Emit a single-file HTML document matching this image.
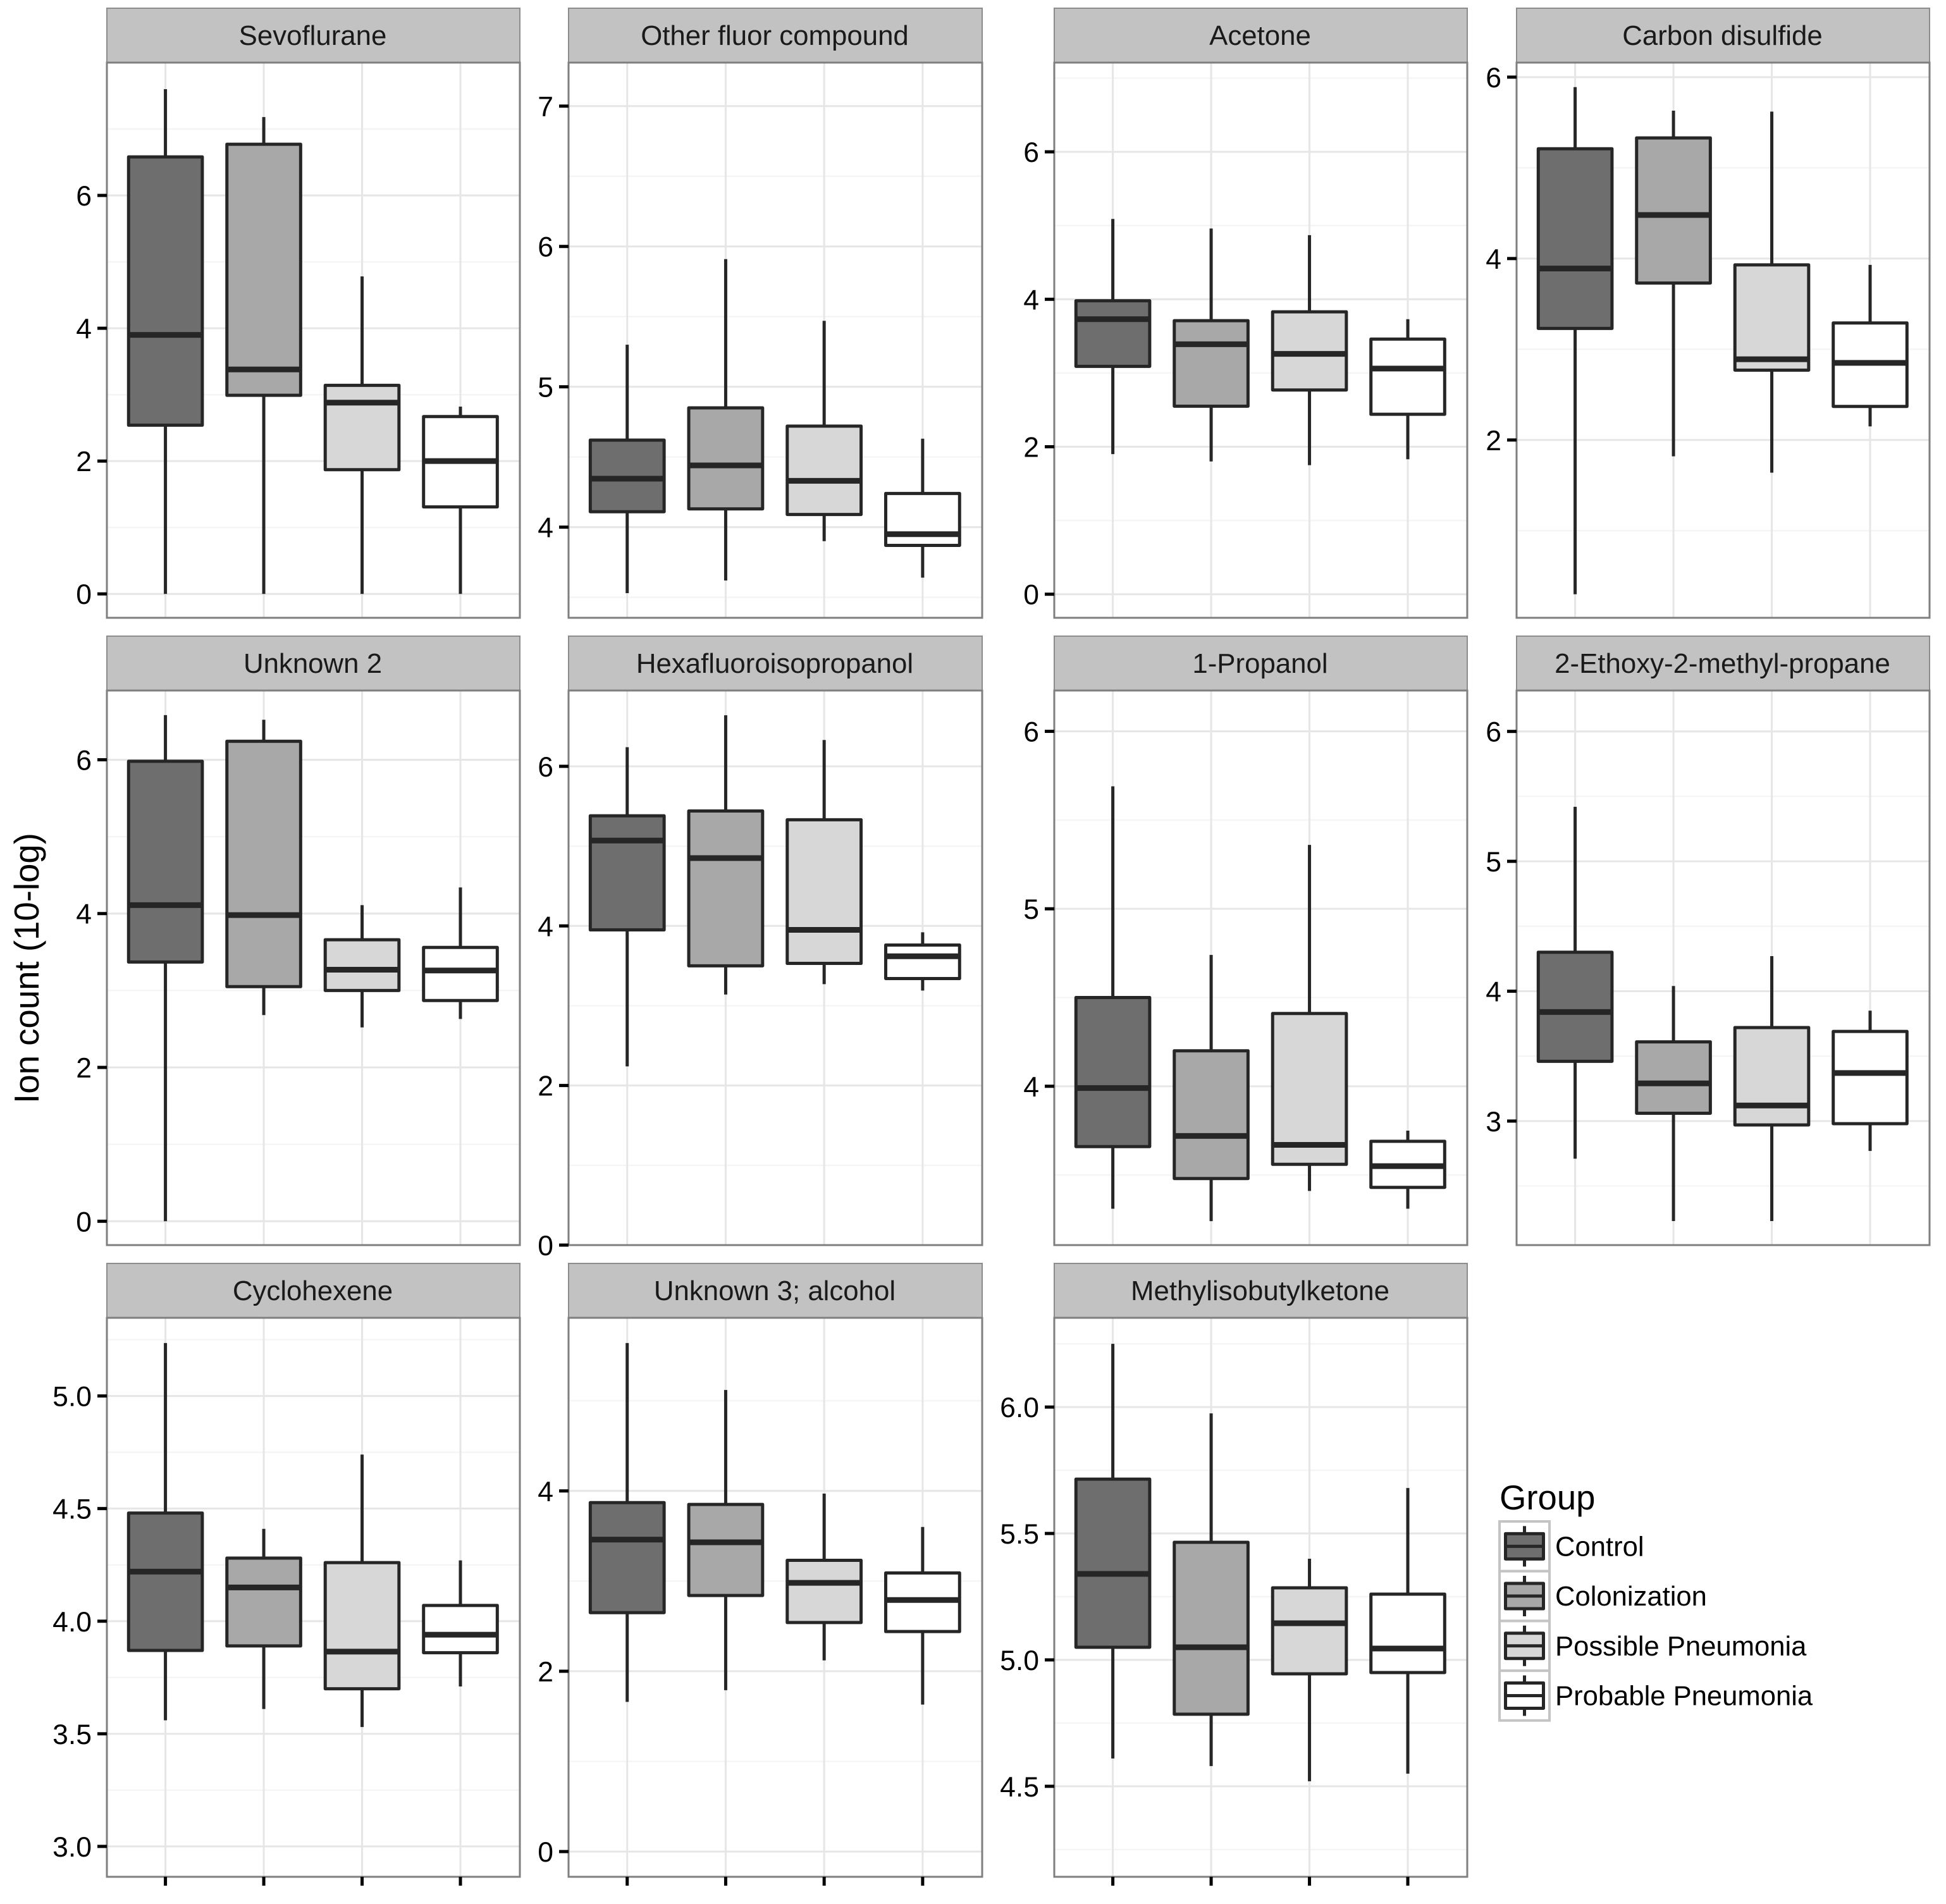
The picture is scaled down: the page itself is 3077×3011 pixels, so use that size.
<!DOCTYPE html>
<html lang="en">
<head>
<meta charset="utf-8">
<title>Ion count by group</title>
<style>
html,body{margin:0;padding:0;background:#fff;}
svg{display:block;}
text{font-family:"Liberation Sans",Arial,sans-serif;}
</style>
</head>
<body>
<svg id="chart" xmlns="http://www.w3.org/2000/svg" width="3077" height="3011" viewBox="0 0 3077 3011">
<rect width="3077" height="3011" fill="#ffffff"/>
<text transform="translate(61,1531) rotate(-90)" text-anchor="middle" font-size="54.6" fill="#000">Ion count (10-log)</text>
</svg>
<script>
const panelNames = ["Sevoflurane","Other fluor compound","Acetone","Carbon disulfide","Unknown 2","Hexafluoroisopropanol","1-Propanol","2-Ethoxy-2-methyl-propane","Cyclohexene","Unknown 3; alcohol","Methylisobutylketone"];
const groupNames = ["Control","Colonization","Possible Pneumonia","Probable Pneumonia"];
const yTickLabels = [
 ["0","2","4","6"],["4","5","6","7"],["0","2","4","6"],["2","4","6"],
 ["0","2","4","6"],["0","2","4","6"],["4","5","6"],["3","4","5","6"],
 ["3.0","3.5","4.0","4.5","5.0"],["0","2","4"],["4.5","5.0","5.5","6.0"]
];
const yLimits = [
 [-0.36,8.0],[3.354,7.31],[-0.32,7.21],[0.04,6.16],
 [-0.31,6.90],[0,6.95],[3.105,6.23],[2.045,6.315],
 [2.865,5.347],[-0.28,5.92],[4.142,6.353]
];
const whiskerLow = [
 [0,0,0,0],[3.53,3.62,3.90,3.64],[1.90,1.80,1.75,1.83],[0.30,1.82,1.64,2.15],
 [0,2.68,2.52,2.63],[2.24,3.14,3.27,3.19],[3.31,3.24,3.41,3.31],[2.71,2.23,2.23,2.77],
 [3.56,3.61,3.53,3.71],[1.66,1.79,2.12,1.63],[4.61,4.58,4.52,4.55]
];
const quartile1 = [
 [2.54,2.99,1.87,1.31],[4.11,4.13,4.09,3.87],[3.09,2.55,2.77,2.44],[3.23,3.73,2.77,2.37],
 [3.37,3.05,3.00,2.87],[3.95,3.50,3.53,3.34],[3.66,3.48,3.56,3.43],[3.46,3.06,2.97,2.98],
 [3.87,3.89,3.70,3.86],[2.65,2.84,2.54,2.44],[5.05,4.785,4.945,4.95]
];
const medians = [
 [3.90,3.38,2.88,2.00],[4.345,4.44,4.33,3.95],[3.73,3.39,3.26,3.06],[3.89,4.48,2.89,2.85],
 [4.11,3.98,3.27,3.26],[5.07,4.85,3.95,3.62],[3.99,3.72,3.67,3.55],[3.84,3.29,3.12,3.37],
 [4.22,4.15,3.865,3.94],[3.46,3.43,2.98,2.79],[5.34,5.05,5.145,5.045]
];
const quartile3 = [
 [6.58,6.77,3.14,2.67],[4.62,4.85,4.72,4.24],[3.98,3.71,3.83,3.46],[5.21,5.33,3.93,3.29],
 [5.98,6.24,3.66,3.56],[5.38,5.44,5.33,3.76],[4.50,4.20,4.41,3.69],[4.30,3.61,3.72,3.69],
 [4.48,4.28,4.26,4.07],[3.87,3.85,3.23,3.09],[5.715,5.465,5.285,5.26]
];
const whiskerHigh = [
 [7.60,7.18,4.78,2.82],[5.30,5.91,5.47,4.63],[5.09,4.96,4.87,3.73],[5.89,5.63,5.62,3.93],
 [6.58,6.52,4.11,4.34],[6.24,6.64,6.33,3.92],[5.69,4.74,5.36,3.75],[5.42,4.04,4.27,3.85],
 [5.235,4.41,4.74,4.27],[5.64,5.12,3.97,3.60],[6.25,5.975,5.40,5.68]
];
const groupFills = ["#6e6e6e","#a8a8a8","#d7d7d7","#ffffff"];

const NS = "http://www.w3.org/2000/svg";
const root = document.getElementById("chart");
const INK = "#262626";
const columnEdges = [[169,822],[899,1553],[1667,2320],[2398,3051]];
const rowEdges = [[99,977],[1092,1969],[2084,2968]];
const STRIP_H = 86;

function make(parent, tag, props, content) {
  const el = document.createElementNS(NS, tag);
  for (const key in props) el.setAttribute(key, props[key]);
  if (content !== undefined) el.textContent = content;
  parent.appendChild(el);
  return el;
}
function xBand(left, right, idx) {
  const unit = (right - left) / 4.2;
  return left + (0.6 + idx) * unit - 0.7;
}
function yScale(limits, top, bottom, value) {
  return bottom - (value - limits[0]) / (limits[1] - limits[0]) * (bottom - top);
}

panelNames.forEach(function (name, p) {
  const col = p % 4;
  const row = Math.floor(p / 4);
  const L = columnEdges[col][0], R = columnEdges[col][1];
  const T = rowEdges[row][0], B = rowEdges[row][1];
  const limits = yLimits[p];
  const Y = function (v) { return yScale(limits, T, B, v); };
  const X = function (i) { return xBand(L, R, i); };
  const unit = (R - L) / 4.2;

  const g = make(root, "g", {});
  
  

  const strip = make(g, "rect", {x: L, y: T - STRIP_H, width: R - L, height: STRIP_H, fill: "#c2c2c2", stroke: "#8c8c8c", "stroke-width": 2});
  
  

  const title = make(g, "text", {x: (L + R) / 2 - 1, y: T - 28, "text-anchor": "middle", "font-size": 43.8, fill: "#1a1a1a"}, name);
  
  

  const bg = make(g, "rect", {x: L, y: T, width: R - L, height: B - T, fill: "#ffffff"});
  
  

  const tickValues = yTickLabels[p].map(Number);
  const step = tickValues[1] - tickValues[0];
  for (let m = tickValues[0] - step / 2; m < limits[1]; m += step) {
    if (m <= limits[0]) continue;
    const minor = make(g, "line", {x1: L, x2: R, y1: Y(m), y2: Y(m), stroke: "#f5f5f5", "stroke-width": 2.5});
    
    
  }
  tickValues.forEach(function (v) {
    const major = make(g, "line", {x1: L, x2: R, y1: Y(v), y2: Y(v), stroke: "#e6e6e6", "stroke-width": 3});
    
    
  });
  groupNames.forEach(function (_, i) {
    const vg = make(g, "line", {x1: X(i), x2: X(i), y1: T, y2: B, stroke: "#e6e6e6", "stroke-width": 3});
    
    
  });

  groupNames.forEach(function (group, i) {
    const cx = X(i), hw = unit * 0.375;
    const box = make(g, "g", {});
    
    
    const up = make(box, "line", {x1: cx, x2: cx, y1: Y(whiskerHigh[p][i]), y2: Y(quartile3[p][i]), stroke: INK, "stroke-width": 5});
    
    
    const down = make(box, "line", {x1: cx, x2: cx, y1: Y(quartile1[p][i]), y2: Y(whiskerLow[p][i]), stroke: INK, "stroke-width": 5});
    
    
    const rect = make(box, "rect", {x: cx - hw, y: Y(quartile3[p][i]), width: hw * 2, height: Y(quartile1[p][i]) - Y(quartile3[p][i]), fill: groupFills[i], stroke: INK, "stroke-width": 5, "stroke-linejoin": "round"});
    
    
    const med = make(box, "line", {x1: cx - hw, x2: cx + hw, y1: Y(medians[p][i]), y2: Y(medians[p][i]), stroke: INK, "stroke-width": 9});
    
    
  });

  const border = make(g, "rect", {x: L, y: T, width: R - L, height: B - T, fill: "none", stroke: "#7f7f7f", "stroke-width": 3});
  
  

  yTickLabels[p].forEach(function (label, k) {
    const yy = Y(tickValues[k]);
    const tick = make(g, "line", {x1: L - 15, x2: L, y1: yy, y2: yy, stroke: "#000", "stroke-width": 5});
    
    
    const txt = make(g, "text", {x: L - 24, y: yy + 16, "text-anchor": "end", "font-size": 44.5, fill: "#000"}, label);
    
    
  });

  if (row === 2) {
    groupNames.forEach(function (_, i) {
      const xt = make(g, "line", {x1: X(i), x2: X(i), y1: B, y2: B + 14, stroke: "#000", "stroke-width": 5});
      
      
    });
  }
});

const legend = make(root, "g", {});


const legendTitle = make(legend, "text", {x: 2371, y: 2387, "font-size": 54.5, fill: "#000"}, "Group");


groupNames.forEach(function (group, i) {
  const top = 2406 + i * 78.7, size = 78.7, left = 2371, kw = 79;
  const item = make(legend, "g", {});
  
  
  const key = make(item, "rect", {x: left, y: top, width: kw, height: size, fill: "#ffffff", stroke: "#c4c4c4", "stroke-width": 4});
  
  
  const cx = left + kw / 2, cy = top + size / 2;
  const wh = make(item, "line", {x1: cx, x2: cx, y1: cy - 32, y2: cy + 32, stroke: INK, "stroke-width": 5});
  
  
  const bx = make(item, "rect", {x: cx - 30, y: cy - 20, width: 60, height: 40, fill: groupFills[i], stroke: INK, "stroke-width": 5, "stroke-linejoin": "round"});
  
  
  const md = make(item, "line", {x1: cx - 30, x2: cx + 30, y1: cy, y2: cy, stroke: INK, "stroke-width": 5});
  
  
  const lb = make(item, "text", {x: left + 88, y: cy + 15, "font-size": 43.6, fill: "#000"}, group);
  
  
});
</script>
</body>
</html>
